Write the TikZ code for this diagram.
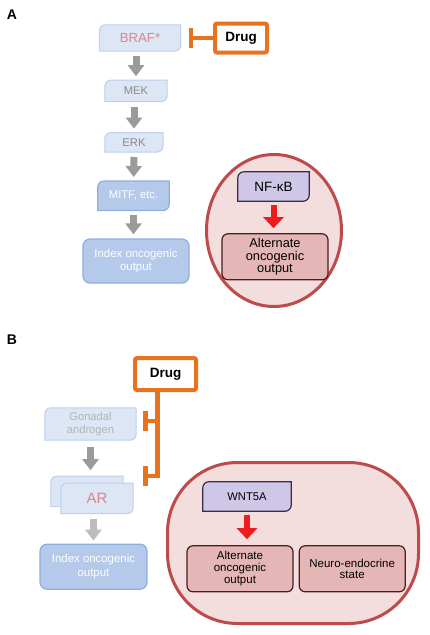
\documentclass[tikz,border=0pt]{standalone}
\usepackage{fontspec}
\setmainfont{Liberation Sans}
\usetikzlibrary{shapes.geometric, arrows.meta, positioning, backgrounds}

\definecolor{paleblue}{HTML}{DCE6F4}
\definecolor{paleedge}{HTML}{BDD0EC}
\definecolor{midblue}{HTML}{B5CAEA}
\definecolor{midedge}{HTML}{8DAFDD}
\definecolor{drugorange}{HTML}{E8731E}
\definecolor{cellfill}{HTML}{F3DDDD}
\definecolor{celledge}{HTML}{BE4B4B}
\definecolor{lavender}{HTML}{CFC7E7}
\definecolor{plum}{HTML}{3B2A48}
\definecolor{rosefill}{HTML}{E5B6B6}
\definecolor{roseedge}{HTML}{4A1E1E}
\definecolor{arrowgray}{HTML}{9B9B9B}
\definecolor{fadegray}{HTML}{BDBDBD}
\definecolor{textgray}{HTML}{8A8A8A}
\definecolor{ghostgray}{HTML}{B5B5B5}
\definecolor{pinktext}{HTML}{D8888B}
\definecolor{sigred}{HTML}{EE1C1C}

\tikzstyle{leaf} = [rectangle, inner sep=0pt, align=center, font=\fontsize{11.2}{12.5}\selectfont]
\tikzstyle{output} = [rectangle, rounded corners=7pt, draw=midedge, line width=1.2pt, fill=midblue, text=white, align=center, inner sep=0pt, minimum width=106pt, minimum height=44pt, font=\fontsize{11.4}{13.5}\selectfont]
\tikzstyle{alt} = [rectangle, rounded corners=6pt, draw=roseedge, line width=1.2pt, fill=rosefill, align=center, inner sep=0pt, minimum width=106pt, minimum height=46pt, font=\fontsize{11.5}{11.8}\selectfont]
\tikzstyle{drug} = [rectangle, rounded corners=2pt, draw=drugorange, line width=4pt, fill=white, inner sep=0pt, font=\fontsize{13.5}{15}\selectfont\bfseries]
\tikzstyle{cell} = [draw=celledge, line width=3pt, fill=cellfill, inner sep=0pt]
\tikzstyle{panel} = [font=\fontsize{14}{14}\selectfont\bfseries]
\tikzstyle{graydown} = [line width=7pt, arrowgray, -{Triangle[width=16pt,length=11pt]}, shorten <=5pt, shorten >=4pt]
\tikzstyle{reddown} = [line width=6pt, sigred, -{Triangle[width=20pt,length=11pt]}, shorten <=4pt, shorten >=5pt]
\tikzstyle{inhibit} = [line width=4.5pt, drugorange, -{Bar[width=20pt]}]
\tikzstyle{paleleaf} = [fill=paleblue, draw=paleedge, line width=1pt]
\tikzstyle{midleaf} = [fill=midblue, draw=midedge, line width=1.2pt]
\tikzstyle{purpleleaf} = [fill=lavender, draw=plum, line width=1.2pt]

% leaf box: round top-left and bottom-right corners only
\newcommand{\leafshape}[2]{%
  \filldraw[#2] (#1.north east) -- ([yshift=6pt]#1.south east) arc (0:-90:6pt)
    -- (#1.south west) -- ([yshift=-6pt]#1.north west) arc (180:90:6pt) -- cycle;}

\begin{document}
\begin{tikzpicture}[x=1pt, y=1pt, node distance=29pt]
	\useasboundingbox (0,0) rectangle (430,-635);

	% panel A
	\node (labelA) [panel] at (12,-15) {A};
	\node (braf) [leaf, text=pinktext, minimum width=81pt, minimum height=26pt, font=\fontsize{13.2}{14}\selectfont] at (140,-38) {BRAF*};
	\node (mek) [leaf, text=textgray, minimum width=62pt, minimum height=21pt, below=of braf, xshift=-4pt] {MEK};
	\node (erk) [leaf, text=textgray, minimum width=58pt, minimum height=19pt, below=31pt of mek, xshift=-2pt] {ERK};
	\node (mitf) [leaf, text=white, minimum width=71pt, minimum height=29pt, below=of erk, xshift=-0.5pt] {MITF, etc.};
	\node (indexA) [output, below=28pt of mitf, xshift=2.5pt] {Index oncogenic\\output};
	\node (drugA) [drug, minimum width=52pt, minimum height=29pt] at (241,-38) {Drug};
	\coordinate (hitbraf) at ([xshift=8pt]braf.east);

	\node (nfkb) [leaf, minimum width=71pt, minimum height=29pt, font=\fontsize{13.5}{14}\selectfont] at (273.5,-186.5) {NF-κB};
	\node (altA) [alt, below=32pt of nfkb, xshift=1.5pt, font=\fontsize{12.8}{12.6}\selectfont] {Alternate\\oncogenic\\output};

	% panel B
	\node (labelB) [panel] at (12,-340) {B};
	\node (drugB) [drug, minimum width=61pt, minimum height=32pt] at (165.5,-374) {Drug};
	\node (gonadal) [leaf, text=ghostgray, minimum width=91pt, minimum height=32pt] at (90.5,-424) {Gonadal\\androgen};
	\node (ar) [leaf, text=pinktext, minimum width=72pt, minimum height=30pt, below=43pt of gonadal, xshift=6.5pt, font=\fontsize{15}{15}\selectfont] {AR};
	\node (arback) [leaf, minimum width=72pt, minimum height=30pt] at ([xshift=-10pt,yshift=7pt]ar.center) {};
	\node (indexB) [output, minimum width=107pt, minimum height=45pt, below=30pt of ar, xshift=-3.5pt] {Index oncogenic\\output};
	\coordinate (trunk) at ([xshift=-8pt]drugB.south);
	\coordinate (hitG) at ([xshift=7pt,yshift=3pt]gonadal.east);
	\coordinate (hitAR) at ([xshift=10pt,yshift=7pt]ar.north east);

	\node (wnt) [leaf, minimum width=88pt, minimum height=29pt] at (247,-496.5) {WNT5A};
	\node (altB) [alt, below=34pt of wnt, xshift=-7pt] {Alternate\\oncogenic\\output};
	\node (neuro) [alt, right=5pt of altB] {Neuro-endocrine\\state};

	\begin{pgfonlayer}{background}
		\node (cellA) [cell, ellipse, minimum width=135pt, minimum height=152pt] at (274,-230.5) {};
		\node (cellB) [cell, rectangle, rounded corners=70pt, minimum width=251pt, minimum height=161pt] at (293,-543) {};
		\leafshape{braf}{paleleaf}
		\leafshape{mek}{paleleaf}
		\leafshape{erk}{paleleaf}
		\leafshape{mitf}{midleaf}
		\leafshape{nfkb}{purpleleaf}
		\leafshape{gonadal}{paleleaf}
		\leafshape{arback}{paleleaf}
		\leafshape{ar}{paleleaf}
		\leafshape{wnt}{purpleleaf}
	\end{pgfonlayer}

	\draw [graydown] (braf.south -| mek) -- (mek);
	\draw [graydown] (mek.south -| erk) -- (erk);
	\draw [graydown] (erk) -- (mitf);
	\draw [graydown] (mitf.south) -- (mitf.south |- indexA.north);
	\draw [inhibit] (drugA) -- (hitbraf);
	\draw [reddown] (nfkb) -- (nfkb |- altA.north);

	\draw [graydown, shorten <=7pt, shorten >=6pt] (gonadal.south) -- (gonadal.south |- arback.north);
	\draw [graydown, fadegray, shorten >=3pt] (ar.south -| indexB) -- (indexB);
	\draw [inhibit] (trunk) |- (hitAR);
	\draw [inhibit] (hitG -| trunk) -- (hitG);
	\draw [reddown, shorten >=6pt] (wnt.south) -- (wnt.south |- altB.north);
\end{tikzpicture}
\end{document}
